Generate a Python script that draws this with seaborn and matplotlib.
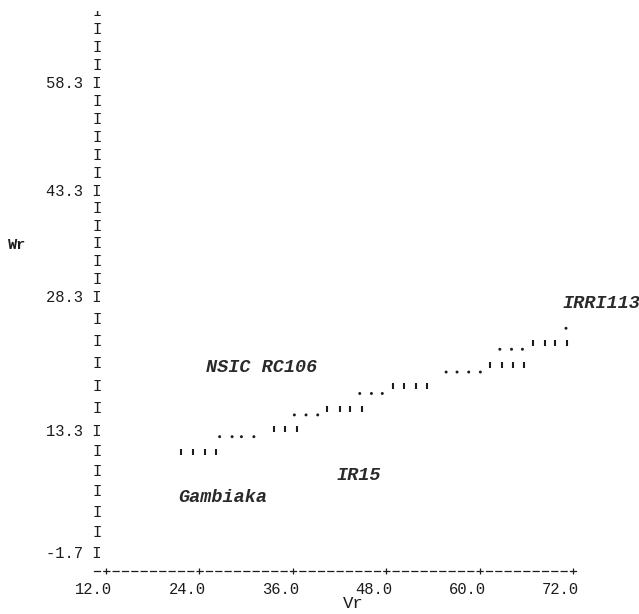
import numpy as np
import pandas as pd
import matplotlib
matplotlib.use("Agg")
import matplotlib.pyplot as plt
from matplotlib import transforms as mtransforms
import seaborn as sns

# ---------------------------------------------------------------
# Wr / Vr graph of the diallel, drawn in the style of a line printout
# ---------------------------------------------------------------

# parents, plotted by name at their (Vr, Wr) point
variety = ["IRRI113", "NSIC RC106", "IR15", "Gambiaka"]
variety_vr = [70.6, 24.9, 41.6, 21.3]
variety_wr = [27.6, 20.4, 7.8, 5.1]

# regression line as printed: '.' marks the lower part of a print cell,
# "'" the upper part
dot_vr = [26.6, 28.2, 29.4, 31.0,
          36.2, 37.7, 39.2,
          44.6, 46.1, 47.5,
          55.7, 57.1, 58.6, 60.1,
          62.6, 64.1, 65.5,
          71.1]
dot_wr = [12.6, 12.6, 12.6, 12.6,
          15.1, 15.1, 15.1,
          17.5, 17.5, 17.5,
          19.9, 19.9, 19.9, 19.9,
          22.45, 22.45, 22.45,
          24.8]
tick_vr = [21.7, 23.2, 24.7, 26.1,
           33.6, 35.0, 36.5,
           40.4, 42.0, 43.4, 44.9,
           48.9, 50.3, 51.8, 53.2,
           61.3, 62.9, 64.3, 65.7,
           66.9, 68.4, 69.7, 71.2]
tick_wr = [10.7, 10.7, 10.7, 10.7,
           13.5, 13.5, 13.5,
           15.8, 15.8, 15.8, 15.8,
           18.3, 18.3, 18.3, 18.3,
           20.7, 20.7, 20.7, 20.7,
           23.2, 23.2, 23.2, 23.2]

# axis annotation
vr_ticks = [12.0, 24.0, 36.0, 48.0, 60.0, 72.0]
wr_labelled = [-1.7, 13.3, 28.3, 43.3, 58.3]
wr_first_row, wr_row_step, wr_n_rows = -1.7, 2.5, 29
wr_axis_row = -4.2

dots = pd.DataFrame({"Vr": dot_vr, "Wr": dot_wr})
ticks = pd.DataFrame({"Vr": tick_vr, "Wr": tick_wr})

# ---------------------------------------------------------------
sns.set_theme(style="white")
plt.rcParams["font.family"] = ["Liberation Mono", "DejaVu Sans Mono"]
plt.rcParams["lines.scale_dashes"] = False

INK = "#1c1c1c"
W, H, DPI = 639, 614, 100
fig = plt.figure(figsize=(W / DPI, H / DPI), dpi=DPI)
fig.patch.set_facecolor("white")

# axes frame in pixels (left, axis-row, right, top)
left_px, axis_px = 93, 571
ax = fig.add_axes([left_px / W, (H - axis_px) / H, 1 - left_px / W, axis_px / H])
ax.set_facecolor("white")

# the printout's line spacing is uneven: map Wr rows onto their printed height
ROW_WR = np.array([-4.2, -1.7, 13.3, 28.3, 43.3, 58.3, 68.3, 73.3])
ROW_PX = np.array([571.0, 553.0, 431.0, 297.0, 191.0, 83.5, 11.0, -26.0])


def _fwd(w):
    return -np.interp(w, ROW_WR, ROW_PX)


def _inv(v):
    return np.interp(-np.asarray(v), ROW_PX[::-1], ROW_WR[::-1])


ax.set_yscale("function", functions=(_fwd, _inv))
wr_top = float(_inv(0.0))
ax.set_ylim(wr_axis_row, wr_top)

px_per_vr = (573 - 106) / 60.0
ax.set_xlim(12 + (left_px - 106) / px_per_vr, 12 + (W - 106) / px_per_vr)

# regression line marks
sns.scatterplot(data=dots, x="Vr", y="Wr", marker="o", s=4.5, color=INK,
                edgecolor="none", ax=ax, legend=False, zorder=3)
sns.scatterplot(data=ticks, x="Vr", y="Wr", marker="|", s=15, color=INK,
                linewidth=1.5, ax=ax, legend=False, zorder=3)

# parent names
for name, vr, wr in zip(variety, variety_vr, variety_wr):
    ax.text(vr, wr, name, ha="left", va="center", fontsize=13.3,
            fontstyle="italic", fontweight="bold", color="#2a2a2a",
            zorder=4, clip_on=False)

# ---- y axis: a column of 'I' with the value on every sixth row
rows = [round(wr_first_row + wr_row_step * k, 1) for k in range(wr_n_rows)]
ax.set_yticks(rows)
ax.set_yticklabels([f"{r:.1f} I" if r in wr_labelled else "I" for r in rows])
ax.yaxis.set_minor_locator(matplotlib.ticker.NullLocator())
ax.tick_params(axis="y", length=0, pad=-6.3, labelsize=11.2, labelcolor=INK)
for lbl in ax.get_yticklabels():
    lbl.set_va("center")
# the topmost row is cut by the edge of the printout
top_cut = mtransforms.Bbox.from_extents(0, 0, W, H - 10.5)
ax.get_yticklabels()[-1].set_clip_box(
    mtransforms.TransformedBbox(top_cut, mtransforms.IdentityTransform()))
ax.get_yticklabels()[-1].set_clip_on(True)

# ---- x axis: dashed rule with '+' at the labelled values
ax.set_xticks(vr_ticks)
ax.set_xticklabels([f"{v:.1f}" for v in vr_ticks])
ax.xaxis.set_minor_locator(matplotlib.ticker.NullLocator())
ax.tick_params(axis="x", direction="inout", length=4.6, width=0.9,
               color=INK, pad=5.6, labelsize=11.2, labelcolor=INK,
               bottom=True)
shift = mtransforms.ScaledTranslation(6 / DPI, 0, fig.dpi_scale_trans)
for lbl in ax.get_xticklabels():
    lbl.set_ha("right")
    lbl.set_transform(lbl.get_transform() + shift)

for side in ("top", "right", "left"):
    ax.spines[side].set_visible(False)
sp = ax.spines["bottom"]
sp.set_linestyle((0, (4.3, 2.42)))
sp.set_linewidth(0.9)
sp.set_color(INK)
sp.set_bounds(12 + (93.66 - 106) / px_per_vr, 12 + (576 - 106) / px_per_vr)

# axis names
ax.set_xlabel("Vr", fontsize=12.5, color=INK)
ax.xaxis.set_label_coords(353 / W, (H - 604) / H, transform=fig.transFigure)
ax.xaxis.label.set_va("center")
ax.set_ylabel("Wr", fontsize=11, fontweight="bold", color=INK, rotation=0)
ax.yaxis.set_label_coords(17.5 / W, (H - 245) / H, transform=fig.transFigure)
ax.yaxis.label.set_va("center")
ax.yaxis.label.set_ha("center")

fig.savefig("out.png", dpi=DPI, facecolor="white")
